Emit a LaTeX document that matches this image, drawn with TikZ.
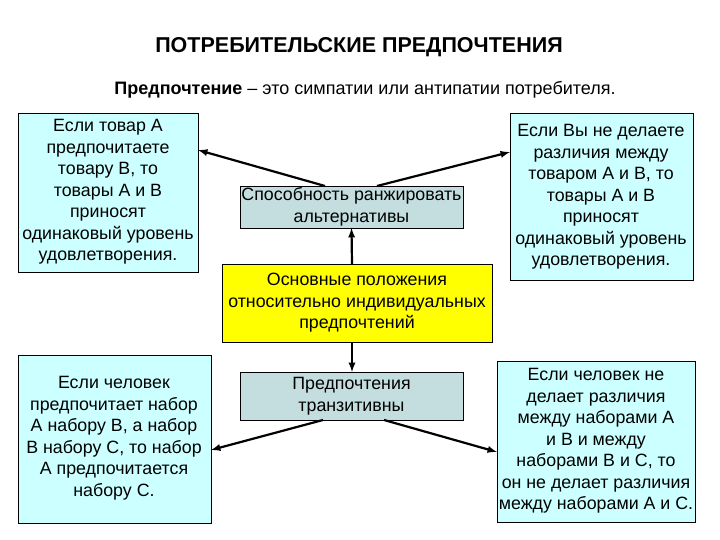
\documentclass[tikz,border=0pt]{standalone}
\usepackage{fontspec}
\setmainfont{Liberation Sans}
\definecolor{lc}{HTML}{CCFFFF}
\definecolor{gb}{HTML}{C4DEDF}
\definecolor{yl}{HTML}{FFFF00}
\begin{document}
\begin{tikzpicture}[x=1pt,y=-1pt,
  box/.style={draw=black,line width=0.8pt,inner sep=0pt},
  txt/.style={align=center,font=\fontsize{17.8}{21.5}\selectfont},
  arr/.style={-latex,line width=2.2pt,shorten >=0pt}]
\useasboundingbox (0,0) rectangle (720,540);
\node[font=\bfseries\fontsize{21.5}{24}\selectfont] (title) at (359,47) {ПОТРЕБИТЕЛЬСКИЕ ПРЕДПОЧТЕНИЯ};
\node[font=\fontsize{18}{22}\selectfont] (sub) at (365,90) {\textbf{Предпочтение} – это симпатии или антипатии потребителя.};

\filldraw[box,fill=lc] (18,113) rectangle (198,272);
\node[txt] (tl) at (108,192) {Если товар А\\предпочитаете\\товару В, то\\товары А и В\\приносят\\одинаковый уровень\\удовлетворения.};
\coordinate (tlp) at (198,150);

\filldraw[box,fill=lc] (510,113) rectangle (693,280);
\node[txt] (tr) at (601,197) {Если Вы не делаете\\различия между\\товаром А и В, то\\товары А и В\\приносят\\одинаковый уровень\\удовлетворения.};
\coordinate (trp) at (510,152);

\filldraw[box,fill=gb] (240,186) rectangle (463,228);
\node[txt] (rank) at (351.5,207) {Способность ранжировать\\альтернативы};
\coordinate (rt) at (351.5,228);
\coordinate (rl) at (325,186);
\coordinate (rr) at (377,186);

\filldraw[box,fill=yl] (222,264) rectangle (492,342);
\node[txt] (main) at (357,303) {Основные положения\\относительно индивидуальных\\предпочтений};
\coordinate (mt) at (352,264);
\coordinate (mb) at (352,342);

\filldraw[box,fill=gb] (240,372) rectangle (463,420);
\node[txt] (tran) at (351.5,396) {Предпочтения\\транзитивны};
\coordinate (tt) at (352,372);
\coordinate (tl2) at (323,420);
\coordinate (tr2) at (384,420);

\filldraw[box,fill=lc] (18,355) rectangle (211,523);
\node[txt] (bl) at (114,438) {Если человек\\предпочитает набор\\А набору В, а набор\\В набору С, то набор\\А предпочитается\\набору С.};
\coordinate (blp) at (211,450);

\filldraw[box,fill=lc] (497,361) rectangle (695,522);
\node[txt] (br) at (596,441) {Если человек не\\делает различия\\между наборами А\\и В и между\\наборами В и С, то\\он не делает различия\\между наборами А и С.};
\coordinate (brp) at (497,452);

\draw[arr] (mt) -- (rt);
\draw[arr] (mb) -- (tt);
\draw[arr] (rl) -- (tlp);
\draw[arr] (rr) -- (trp);
\draw[arr] (tl2) -- (blp);
\draw[arr] (tr2) -- (brp);
\end{tikzpicture}
\end{document}
